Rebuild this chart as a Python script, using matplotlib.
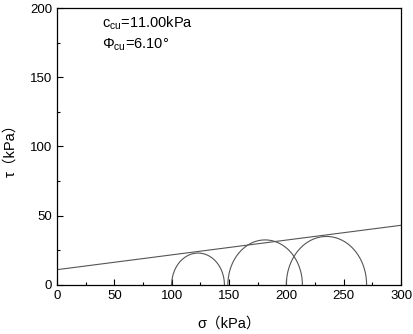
import numpy as np
import matplotlib
matplotlib.use("Agg")
import matplotlib.pyplot as plt

plt.rcParams['font.family'] = ['Liberation Sans', 'Noto Sans CJK SC', 'DejaVu Sans']
plt.rcParams['mathtext.fontset'] = 'custom'
plt.rcParams['mathtext.rm'] = 'Liberation Sans'
plt.rcParams['mathtext.it'] = 'Liberation Sans'

# Mohr circles: (sigma3, sigma1)
sigma3 = [100, 149, 200]
sigma1 = [146, 214, 270]
c_cu = 11.00
phi_cu = 6.10

x_ticks = [0, 50, 100, 150, 200, 250, 300]
y_ticks = [0, 50, 100, 150, 200]

fig = plt.figure(figsize=(4.13, 3.34), dpi=100)
ax = fig.add_axes([0.138, 0.147, 0.833, 0.829])

col = '#555555'
for s3, s1 in zip(sigma3, sigma1):
    c = (s1 + s3) / 2
    r = (s1 - s3) / 2
    t = np.linspace(0, np.pi, 300)
    ax.plot(c + r * np.cos(t), r * np.sin(t), color=col, lw=0.8)

xs = np.array([0, 300])
ax.plot(xs, c_cu + np.tan(np.radians(phi_cu)) * xs, color=col, lw=0.8)

ax.set_xlim(0, 300)
ax.set_ylim(0, 200)
ax.set_xticks(x_ticks)
ax.set_yticks(y_ticks)
ax.set_xticks(np.arange(25, 300, 50), minor=True)
ax.set_yticks(np.arange(25, 200, 50), minor=True)
ax.tick_params(which='both', direction='in', labelsize=9.5, top=False, right=False)
ax.tick_params(which='major', length=4, width=0.8)
ax.tick_params(which='minor', length=2.5, width=0.8)
for s in ax.spines.values():
    s.set_linewidth(0.9)

ax.set_xlabel('σ（kPa）', fontsize=10.5, labelpad=11)
ax.set_ylabel('τ（kPa）', fontsize=10.5, labelpad=9)

ax.text(0.13, 0.978, r'c$_{\rm cu}$=%.2fkPa' % c_cu, transform=ax.transAxes,
        fontsize=10.5, va='top', ha='left')
ax.text(0.13, 0.898, r'Φ$_{\rm cu}$=%.2f°' % phi_cu, transform=ax.transAxes,
        fontsize=10.5, va='top', ha='left')

fig.savefig('out.png', dpi=100)
